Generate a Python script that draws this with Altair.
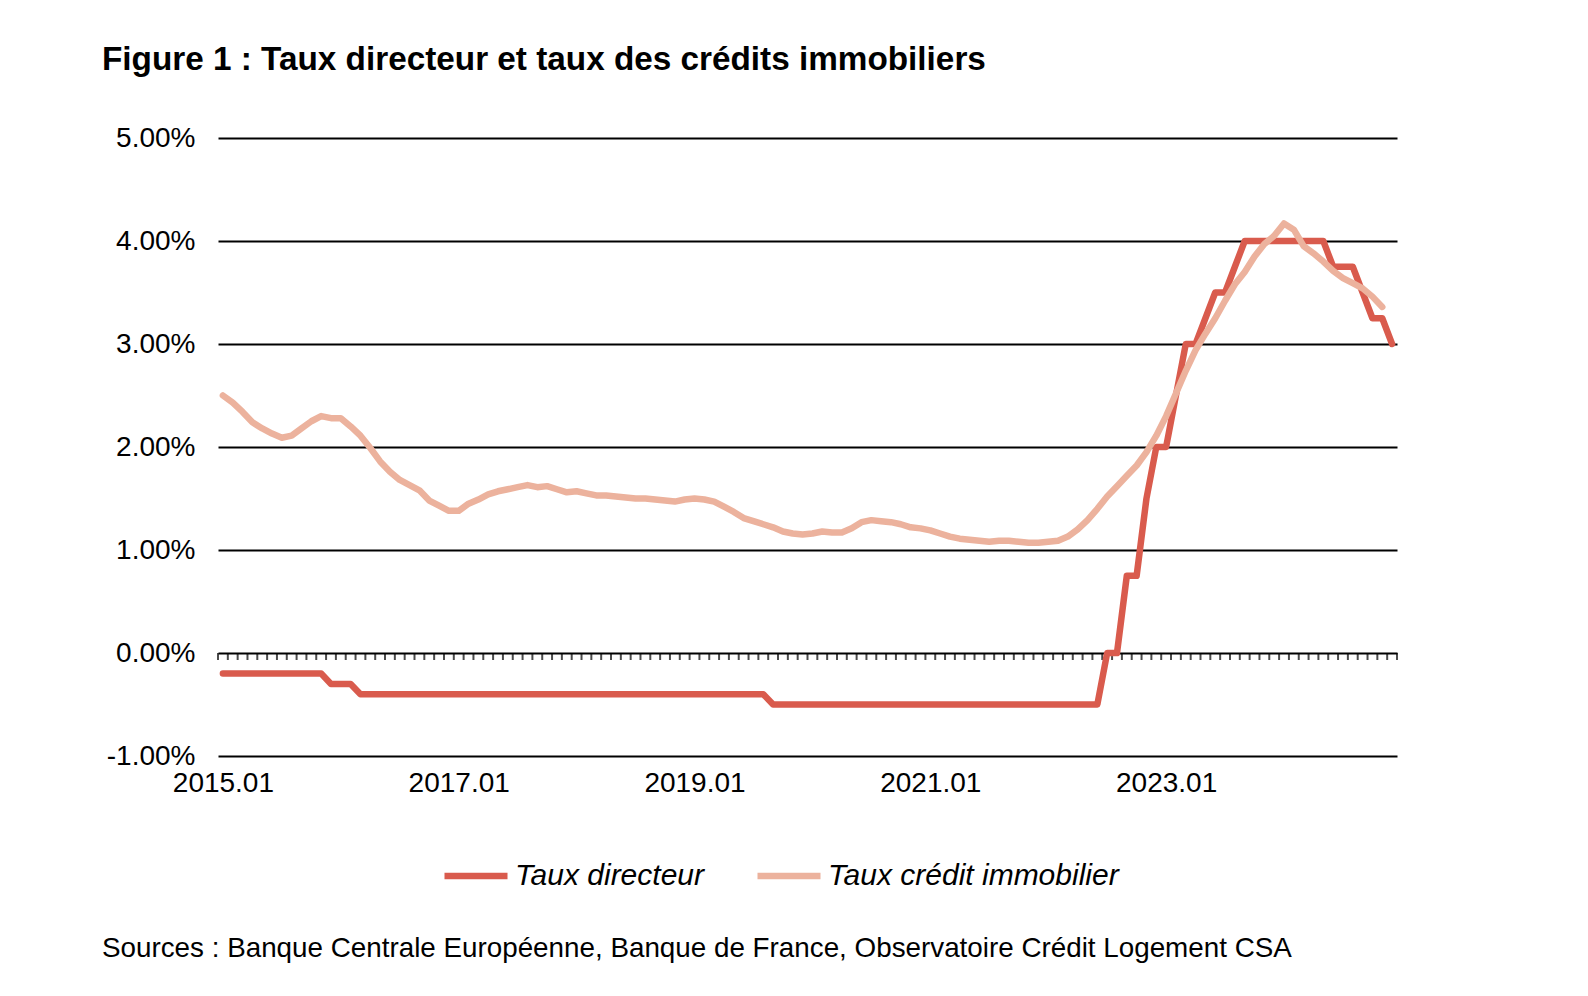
import altair as alt
import pandas as pd

TITLE = "Figure 1 : Taux directeur et taux des crédits immobiliers"
SOURCE = "Sources : Banque Centrale Européenne, Banque de France, Observatoire Crédit Logement CSA"
SERIES = ["Taux directeur", "Taux crédit immobilier"]
COLORS = ["#D95B4D", "#ECB29D"]
FIRST_YEAR = 2015
N_MONTHS = 120
TICK_POS = [0, 24, 48, 72, 96]
TICK_LABELS = ["2015.01", "2017.01", "2019.01", "2021.01", "2023.01"]
Y_TICKS = [-1, 0, 1, 2, 3, 4, 5]

# Monthly values, 2015.01 -> 2024.12 (percent)
TAUX_DIRECTEUR = [
    -0.20, -0.20, -0.20, -0.20, -0.20, -0.20, -0.20, -0.20, -0.20, -0.20, -0.20, -0.30,
    -0.30, -0.30, -0.40, -0.40, -0.40, -0.40, -0.40, -0.40, -0.40, -0.40, -0.40, -0.40,
    -0.40, -0.40, -0.40, -0.40, -0.40, -0.40, -0.40, -0.40, -0.40, -0.40, -0.40, -0.40,
    -0.40, -0.40, -0.40, -0.40, -0.40, -0.40, -0.40, -0.40, -0.40, -0.40, -0.40, -0.40,
    -0.40, -0.40, -0.40, -0.40, -0.40, -0.40, -0.40, -0.40, -0.50, -0.50, -0.50, -0.50,
    -0.50, -0.50, -0.50, -0.50, -0.50, -0.50, -0.50, -0.50, -0.50, -0.50, -0.50, -0.50,
    -0.50, -0.50, -0.50, -0.50, -0.50, -0.50, -0.50, -0.50, -0.50, -0.50, -0.50, -0.50,
    -0.50, -0.50, -0.50, -0.50, -0.50, -0.50, 0.00, 0.00, 0.75, 0.75, 1.50, 2.00,
    2.00, 2.50, 3.00, 3.00, 3.25, 3.50, 3.50, 3.75, 4.00, 4.00, 4.00, 4.00,
    4.00, 4.00, 4.00, 4.00, 4.00, 3.75, 3.75, 3.75, 3.50, 3.25, 3.25, 3.00,
]

TAUX_CREDIT = [
    2.50, 2.43, 2.34, 2.24, 2.18, 2.13, 2.09, 2.11, 2.18, 2.25, 2.30, 2.28,
    2.28, 2.20, 2.11, 1.99, 1.86, 1.76, 1.68, 1.63, 1.58, 1.48, 1.43, 1.38,
    1.38, 1.45, 1.49, 1.54, 1.57, 1.59, 1.61, 1.63, 1.61, 1.62, 1.59, 1.56,
    1.57, 1.55, 1.53, 1.53, 1.52, 1.51, 1.50, 1.50, 1.49, 1.48, 1.47, 1.49,
    1.50, 1.49, 1.47, 1.42, 1.37, 1.31, 1.28, 1.25, 1.22, 1.18, 1.16, 1.15,
    1.16, 1.18, 1.17, 1.17, 1.21, 1.27, 1.29, 1.28, 1.27, 1.25, 1.22, 1.21,
    1.19, 1.16, 1.13, 1.11, 1.10, 1.09, 1.08, 1.09, 1.09, 1.08, 1.07, 1.07,
    1.08, 1.09, 1.13, 1.20, 1.29, 1.40, 1.52, 1.62, 1.72, 1.82, 1.95, 2.11,
    2.30, 2.52, 2.74, 2.94, 3.10, 3.25, 3.42, 3.58, 3.70, 3.85, 3.97, 4.05,
    4.17, 4.11, 3.95, 3.88, 3.80, 3.71, 3.64, 3.59, 3.54, 3.46, 3.36,
]

FONT = "Liberation Sans"

rows = []
for series, values in zip(SERIES, [TAUX_DIRECTEUR, TAUX_CREDIT]):
    for i, v in enumerate(values):
        rows.append({
            "idx": i,
            "month": f"{FIRST_YEAR + i // 12}.{i % 12 + 1:02d}",
            "series": series,
            "value": v,
        })
df = pd.DataFrame(rows)

bounds = pd.DataFrame({"b": [k - 0.5 for k in range(N_MONTHS + 1)], "zero": 0.0})
src = pd.DataFrame({"t": [SOURCE]})

label_expr = " : ".join(
    f"datum.value == {p} ? '{l}'" for p, l in zip(TICK_POS, TICK_LABELS)
) + " : ''"

x_scale = alt.Scale(domain=[-0.5, N_MONTHS - 0.5], nice=False, zero=False)
y_scale = alt.Scale(domain=[-1, 5], nice=False, zero=False)

x_axis = alt.Axis(
    values=TICK_POS, labelExpr=label_expr, title=None, domain=False, ticks=False,
    grid=False, labelFontSize=28, labelFont=FONT, labelColor="black",
    labelPadding=13, labelFlush=False, labelOverlap=False,
)
y_axis = alt.Axis(
    values=Y_TICKS,
    labelExpr="(datum.value < 0 ? '-' : '') + format(abs(datum.value), '.2f') + '%'",
    title=None, domain=False, ticks=False, grid=True, gridColor="black",
    gridWidth=2, gridOpacity=1, labelFontSize=28, labelFont=FONT,
    labelColor="black", labelPadding=23,
)

color = alt.Color(
    "series:N",
    scale=alt.Scale(domain=SERIES, range=COLORS),
    legend=alt.Legend(
        title=None, orient="none", legendX=223, legendY=703,
        direction="horizontal", symbolType="stroke", symbolSize=3969,
        symbolStrokeWidth=6.5, labelFontSize=30, labelFontStyle="italic",
        labelFont=FONT, labelColor="black", labelOffset=4, columnPadding=40,
        padding=0, labelLimit=500,
    ),
)

ticks = alt.Chart(bounds).mark_tick(
    orient="vertical", size=7, thickness=2, color="black", yOffset=3.5
).encode(
    x=alt.X("b:Q", scale=x_scale, axis=x_axis),
    y=alt.Y("zero:Q", scale=y_scale, axis=y_axis),
)

line_dir = alt.Chart(df).transform_filter(
    alt.datum.series == SERIES[0]
).mark_line(strokeWidth=6.5, strokeCap="round", strokeJoin="round").encode(
    x=alt.X("idx:Q", scale=x_scale, axis=x_axis),
    y=alt.Y("value:Q", scale=y_scale, axis=y_axis),
    color=color,
    order="idx:Q",
)

line_cred = alt.Chart(df).transform_filter(
    alt.datum.series == SERIES[1]
).mark_line(strokeWidth=6.5, strokeCap="round", strokeJoin="round").encode(
    x=alt.X("idx:Q", scale=x_scale, axis=x_axis),
    y=alt.Y("value:Q", scale=y_scale, axis=y_axis),
    color=color,
    order="idx:Q",
)

source_text = alt.Chart(src).mark_text(
    align="left", baseline="alphabetic", fontSize=27.8, font=FONT, color="black"
).encode(x=alt.value(-116), y=alt.value(819), text="t:N")

chart = alt.layer(ticks, line_dir, line_cred, source_text).properties(
    width=1179,
    height=618,
    background="white",
    title=alt.TitleParams(
        TITLE, anchor="start", frame="group", dx=-116, dy=48, offset=69,
        baseline="alphabetic", fontSize=33.3, font=FONT, fontWeight="bold",
        color="black",
    ),
    autosize=alt.AutoSizeParams(type="none"),
    padding={"left": 210, "top": 130, "right": 180, "bottom": 220},
).configure_view(stroke=None, strokeWidth=0)

chart.save("out.html", embed_options={"renderer": "svg", "actions": False})
